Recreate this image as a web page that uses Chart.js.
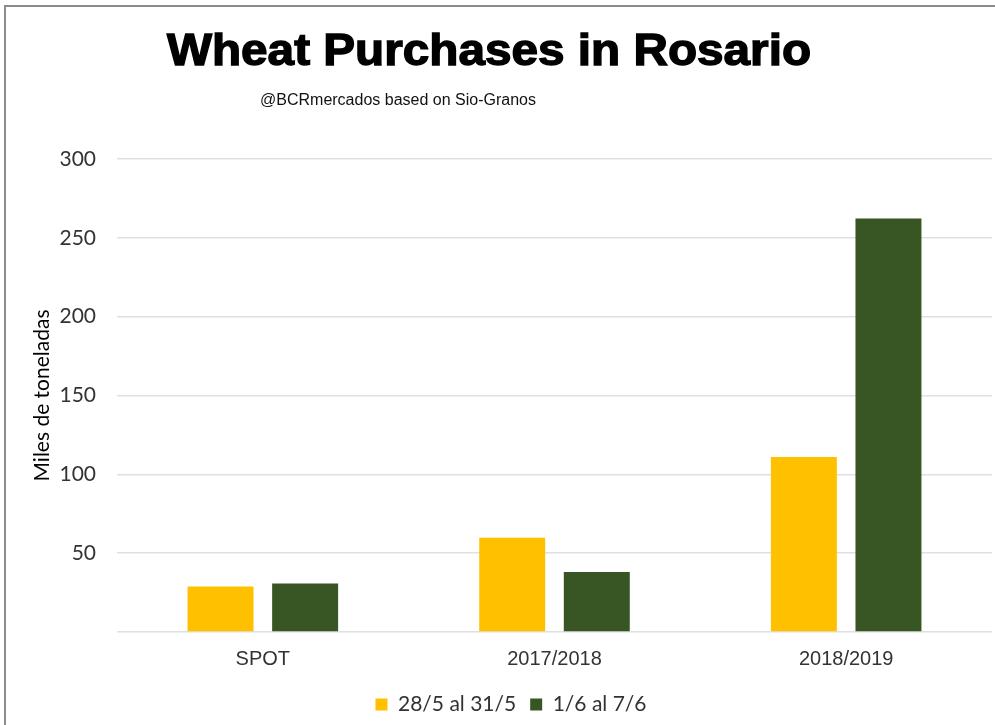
<!DOCTYPE html>
<html>
<head>
<meta charset="utf-8">
<script src="https://cdn.jsdelivr.net/npm/chart.js@4.4.0/dist/chart.umd.min.js"></script>
<style>
html,body{margin:0;padding:0;background:#fff;}
#wrap{position:relative;width:995px;height:725px;}
canvas{display:block;}
</style>
</head>
<body>
<div id="wrap"><canvas id="c" width="995" height="725"></canvas></div>
<script>
const categories = ['SPOT', '2017/2018', '2018/2019'];
const seriesNames = ['28/5 al 31/5', '1/6 al 7/6'];
const series1 = [28.8, 59.7, 111];
const series2 = [30.7, 38, 262.3];
const yTicks = [0, 50, 100, 150, 200, 250, 300];
const titleText = 'Wheat Purchases in Rosario';
const subtitleText = '@BCRmercados based on Sio-Granos';
const yTitle = 'Miles de toneladas';

const headerPlugin = {
  id: 'header',
  beforeDraw(chart) {
    const ctx = chart.ctx;
    ctx.save();
    ctx.fillStyle = '#fff';
    ctx.fillRect(0, 0, chart.width, chart.height);
    ctx.strokeStyle = '#8c8c8c';
    ctx.lineWidth = 2;
    ctx.beginPath();
    ctx.moveTo(5, chart.height + 5);
    ctx.lineTo(5, 6);
    ctx.lineTo(chart.width + 5, 6);
    ctx.stroke();
    ctx.restore();
  },
  afterDraw(chart) {
    const ctx = chart.ctx;
    ctx.save();
    ctx.fillStyle = '#000';
    ctx.textAlign = 'center';
    ctx.textBaseline = 'alphabetic';
    ctx.translate(489, 65);
    ctx.scale(1.06, 1);
    ctx.font = 'bold 45px "Liberation Sans", Arial, sans-serif';
    ctx.lineWidth = 1.4;
    ctx.strokeStyle = '#000';
    ctx.fillText(titleText, 0, 0);
    ctx.strokeText(titleText, 0, 0);
    ctx.restore();
    ctx.save();
    ctx.textAlign = 'center';
    ctx.textBaseline = 'alphabetic';
    ctx.font = '16px "Liberation Sans", Arial, sans-serif';
    ctx.fillStyle = '#111';
    ctx.fillText(subtitleText, 398, 105);
    ctx.restore();
  }
};

new Chart(document.getElementById('c'), {
  type: 'bar',
  data: {
    labels: categories,
    datasets: [
      { label: seriesNames[0], data: series1, backgroundColor: '#FFC000',
        categoryPercentage: 0.58, barPercentage: 0.78 },
      { label: seriesNames[1], data: series2, backgroundColor: '#375623',
        categoryPercentage: 0.58, barPercentage: 0.78 }
    ]
  },
  options: {
    responsive: false,
    animation: false,
    devicePixelRatio: 1,
    layout: { padding: { top: 159, left: 30, right: 3, bottom: 0 } },
    plugins: {
      title: { display: false },
      tooltip: { enabled: false },
      legend: {
        position: 'bottom',
        labels: {
          boxWidth: 12, boxHeight: 12, padding: 14,
          color: '#333',
          font: { family: 'Lato, "Open Sans", sans-serif', size: 21 }
        }
      }
    },
    scales: {
      x: {
        grid: { display: false },
        border: { display: false },
        afterFit(scale) { scale.height = 48; },
        ticks: { color: '#333', padding: 7,
          font: { family: '"Liberation Sans", Arial, sans-serif', size: 20 } }
      },
      y: {
        min: 0, max: 300,
        afterBuildTicks(scale) { scale.ticks = yTicks.map(v => ({ value: v })); },
        afterFit(scale) { scale.width = 87; },
        grid: { color: '#e0e0e0', lineWidth: 1.5, drawTicks: false },
        border: { display: false },
        ticks: {
          color: '#333', padding: 21,
          font: { family: 'Lato, "Open Sans", sans-serif', size: 21 },
          callback: (v) => v === 0 ? '' : v
        },
        title: {
          display: true, text: yTitle, color: '#000',
          padding: { top: 0, bottom: 6 },
          font: { family: 'Lato, "Open Sans", sans-serif', size: 21 }
        }
      }
    }
  },
  plugins: [headerPlugin]
});
</script>
</body>
</html>
